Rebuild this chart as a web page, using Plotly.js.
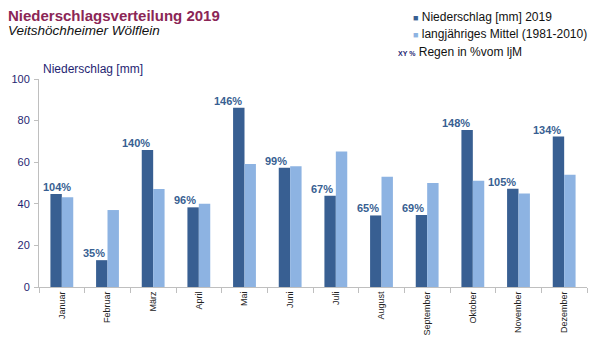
<!DOCTYPE html>
<html>
<head>
<meta charset="utf-8">
<script src="https://cdn.plot.ly/plotly-3.0.1.min.js"></script>
<style>html,body{margin:0;padding:0;background:#fff;}#chart{width:600px;height:359px;}</style>
</head>
<body>
<div id="chart"></div>
<script>
const months = ["Januar","Februar","März","April","Mai","Juni","Juli","August","September","Oktober","November","Dezember"];
const rain2019 = [44.7, 12.9, 65.9, 38.3, 86.2, 57.3, 43.9, 34.4, 34.6, 75.5, 47.2, 72.3];
const longTermMean = [43.1, 37.0, 47.1, 40.0, 59.1, 58.1, 65.1, 53.0, 50.0, 51.1, 45.0, 54.0];
const pctOfMean = ["104%","35%","140%","96%","146%","99%","67%","65%","69%","148%","105%","134%"];

const dark = "#385f92";
const light = "#8db3e2";
const navy = "#1f1f72";
const font = "Liberation Sans, Arial, sans-serif";

const traces = [
  {type:"bar", name:"Niederschlag [mm] 2019", x:months, y:rain2019, marker:{color:dark}, hoverinfo:"y"},
  {type:"bar", name:"langjähriges Mittel (1981-2010)", x:months, y:longTermMean, marker:{color:light}, hoverinfo:"y"}
];

const W = 548, H = 208, L = 39, T = 79;
const px = v => (v - L) / W;
const py = v => 1 + (T - v) / H;

const annotations = [
  {xref:"paper", yref:"paper", x:px(7), y:py(15), xanchor:"left", yanchor:"middle", xshift:-1,
   text:"<b>Niederschlagsverteilung 2019</b>", showarrow:false, font:{size:15, color:"#8b2656"}},
  {xref:"paper", yref:"paper", x:px(7), y:py(31), xanchor:"left", yanchor:"middle", xshift:-1,
   text:"<i>Veitshöchheimer Wölflein</i>", showarrow:false, font:{size:13.5, color:"#111"}},
  {xref:"paper", yref:"paper", x:px(42), y:py(69), xanchor:"left", yanchor:"middle", xshift:-1,
   text:"Niederschlag [mm]", showarrow:false, font:{size:12, color:navy}},
  {xref:"paper", yref:"paper", x:px(412), y:py(17), xanchor:"left", yanchor:"middle", xshift:-1,
   text:"<span style='color:"+dark+";font-size:9px'>■</span> Niederschlag [mm] 2019", showarrow:false, font:{size:12, color:"#111"}},
  {xref:"paper", yref:"paper", x:px(412), y:py(34), xanchor:"left", yanchor:"middle", xshift:-1,
   text:"<span style='color:"+light+";font-size:9px'>■</span> langjähriges Mittel (1981-2010)", showarrow:false, font:{size:12, color:"#111"}},
  {xref:"paper", yref:"paper", x:px(397), y:py(52), xanchor:"left", yanchor:"middle", xshift:-1,
   text:"<span style='font-size:7px;color:"+navy+"'><b>XY %</b></span> Regen in %vom ljM", showarrow:false, font:{size:12, color:"#111"}}
];

months.forEach((m, i) => {
  annotations.push({
    xref:"x", yref:"y", x:m, y:rain2019[i], xanchor:"right", yanchor:"bottom",
    xshift: i === 0 ? 11 : -1, yshift:-1,
    text:"<b>"+pctOfMean[i]+"</b>", showarrow:false,
    font:{size:11, color:dark}
  });
});

const layout = {
  width:600, height:359,
  margin:{l:L, r:13, t:T, b:72},
  paper_bgcolor:"#fff", plot_bgcolor:"#fff",
  showlegend:false,
  barmode:"group", bargap:0.5, bargroupgap:0,
  font:{family:font},
  xaxis:{type:"category", tickangle:-90, tickfont:{size:9, color:"#222"},
         showline:true, linecolor:"#bfbfbf", linewidth:1,
         ticks:"outside", ticklen:5, tickcolor:"#bfbfbf", tickson:"boundaries",
         showgrid:false, fixedrange:true},
  yaxis:{range:[0,100], dtick:20, tickfont:{size:11, color:navy},
         showline:true, linecolor:"#bfbfbf", linewidth:1,
         ticks:"outside", ticklen:4, tickcolor:"#bfbfbf", ticklabelstandoff:2,
         showgrid:false, zeroline:false, fixedrange:true},
  annotations: annotations
};

Plotly.newPlot("chart", traces, layout, {displayModeBar:false, staticPlot:true});
</script>
</body>
</html>
